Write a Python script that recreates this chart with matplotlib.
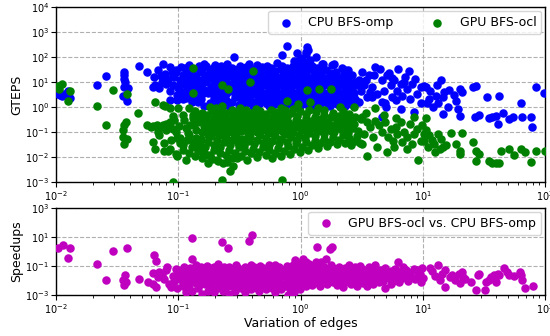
import matplotlib
matplotlib.use("Agg")
import matplotlib.pyplot as plt
from matplotlib.ticker import NullLocator

# CPU BFS-omp (GTEPS) vs variation of edges
cpu_sparse = [
    (0.0103, 3.4), (0.0108, 3.0), (0.0112, 2.9), (0.0115, 3.2), (0.0125, 4.4), (0.0130, 2.3), (0.0128, 4.0),
    (0.0216, 7.8), (0.0257, 17), (0.0357, 25), (0.0357, 18.6), (0.0362, 13.6), (0.0365, 10), (0.0360, 6.3),
    (0.0385, 5.8), (0.0350, 2.7), (0.0380, 1.7), (0.048, 44), (0.0555, 25), (0.0617, 6.3), (0.063, 16),
    (0.068, 31), (0.065, 7.4), (0.075, 51), (0.078, 21.5), (0.080, 8.5), (0.085, 4.6), (0.086, 1.85),
    (0.086, 40), (0.092, 16), (0.082, 13.5), (0.090, 7.4), (0.074, 10), (0.070, 6.0), (0.095, 30),
    (0.097, 3.0), (0.088, 25), (0.072, 18),
    (0.287, 100), (0.78, 290), (1.14, 190), (1.13, 250), (1.10, 158), (1.33, 100), (1.87, 51), (1.50, 54),
    (2.30, 31), (1.05, 70), (0.70, 120), (0.93, 140),
    (3.0, 11.7), (3.1, 4.6), (3.3, 7.4), (3.5, 2.5), (3.6, 18.5), (3.85, 6.3), (4.1, 40), (4.25, 3.4),
    (4.5, 34), (4.65, 11.7), (4.8, 4.6), (4.95, 1.4), (5.1, 18.5), (5.3, 24), (5.45, 7.4), (5.6, 2.5),
    (5.8, 11.7), (6.2, 4.6), (6.3, 34), (6.6, 8.5), (6.8, 2.9), (7.2, 16), (7.4, 5.4), (7.7, 29),
    (7.9, 2.2), (8.2, 8.5), (8.7, 13.5), (9.0, 3.4), (9.6, 6.3), (10.2, 6.7), (4.6, 0.4), (5.0, 1.0),
    (6.6, 0.86), (8.4, 0.63), (4.6, 1.6), (3.0, 1.6), (3.85, 2.5), (3.2, 25), (9.6, 1.4), (3.4, 12),
    (4.0, 20), (5.6, 14), (7.0, 10), (3.7, 4.0), (6.0, 2.0),
    (14.1, 12.4), (10.6, 6.3), (15.0, 3.9), (14.6, 2.5), (18.0, 3.1), (20.0, 5.3), (21.0, 3.9), (25.6, 6.3),
    (27.3, 7.2), (33.6, 2.5), (41.7, 2.7), (63.0, 1.4), (84.0, 6.3), (98.0, 3.6), (10.8, 1.4), (12.1, 1.0),
    (13.3, 1.4), (14.6, 0.55), (18.7, 1.8), (19.3, 0.85), (20.0, 0.46), (26.5, 0.4), (29.0, 0.5), (35.0, 0.35),
    (37.0, 0.4), (41.0, 0.22), (40.0, 0.46), (45.0, 0.57), (51.0, 0.32), (55.0, 0.42), (65.0, 0.4),
    (77.0, 0.4), (78.0, 0.16), (11.3, 2.2), (12.8, 2.9), (16.0, 1.0), (11.5, 4.5), (13.0, 8.0), (16.5, 5.0),
]

cpu_dense = [
    (0.097, 1.9), (0.103, 3.5), (0.099, 6.0), (0.104, 12), (0.096, 25),
    (0.109, 2.2), (0.104, 8.0), (0.111, 16), (0.105, 40),
    (0.115, 2.4), (0.110, 4.2), (0.116, 9.0), (0.109, 20), (0.114, 35),
    (0.123, 3.0), (0.117, 6.5), (0.124, 14), (0.118, 28),
    (0.129, 1.6), (0.123, 5.0), (0.131, 10), (0.127, 22), (0.122, 50),
    (0.138, 2.5), (0.131, 7.5), (0.139, 15), (0.133, 32),
    (0.146, 1.6), (0.139, 4.0), (0.144, 9.0), (0.137, 18), (0.147, 42),
    (0.155, 3.2), (0.148, 6.0), (0.156, 12), (0.149, 25),
    (0.163, 1.1), (0.154, 2.2), (0.161, 5.0), (0.153, 8.0), (0.165, 16), (0.156, 30), (0.162, 55),
    (0.174, 3.5), (0.166, 10), (0.176, 20), (0.168, 45),
    (0.183, 1.5), (0.174, 4.5), (0.185, 7.0), (0.173, 13), (0.181, 28),
    (0.195, 2.4), (0.186, 6.0), (0.197, 11), (0.188, 18), (0.193, 38),
    (0.206, 1.2), (0.196, 3.0), (0.208, 8.0), (0.194, 15), (0.204, 24), (0.198, 50),
    (0.220, 1.9), (0.209, 5.0), (0.221, 9.5), (0.211, 20), (0.218, 35),
    (0.231, 1.3), (0.219, 2.8), (0.232, 6.5), (0.217, 12), (0.229, 28), (0.222, 45),
    (0.247, 2.0), (0.235, 4.0), (0.248, 8.0), (0.236, 16), (0.244, 30),
    (0.259, 1.1), (0.245, 3.2), (0.260, 5.5), (0.246, 11), (0.257, 22), (0.249, 55),
    (0.277, 1.6), (0.263, 4.5), (0.278, 9.0), (0.262, 18), (0.274, 38),
    (0.291, 2.5), (0.276, 6.0), (0.292, 13), (0.279, 25),
    (0.311, 1.2), (0.295, 3.5), (0.313, 7.5), (0.296, 15), (0.308, 32),
    (0.326, 1.8), (0.309, 5.0), (0.328, 10), (0.310, 20), (0.322, 45),
    (0.350, 1.3), (0.331, 2.8), (0.351, 6.5), (0.333, 12), (0.345, 28),
    (0.366, 2.2), (0.347, 4.2), (0.368, 9.0), (0.349, 17), (0.361, 40),
    (0.392, 1.5), (0.370, 3.5), (0.393, 7.0), (0.372, 14), (0.386, 30), (0.375, 55),
    (0.410, 1.1), (0.389, 2.5), (0.412, 5.5), (0.391, 11), (0.404, 22),
    (0.440, 1.8), (0.417, 4.0), (0.442, 8.5), (0.418, 16), (0.434, 35),
    (0.461, 1.3), (0.436, 3.0), (0.463, 6.5), (0.438, 13), (0.455, 26), (0.443, 50),
    (0.494, 2.2), (0.467, 5.0), (0.496, 10), (0.469, 20), (0.487, 40),
    (0.517, 1.5), (0.489, 3.5), (0.519, 7.5), (0.491, 15), (0.509, 30),
    (0.554, 1.1), (0.524, 2.6), (0.556, 5.5), (0.526, 11), (0.546, 24), (0.531, 45),
    (0.580, 1.9), (0.549, 4.0), (0.582, 8.5), (0.551, 17), (0.571, 35),
    (0.622, 1.3), (0.589, 3.0), (0.624, 6.5), (0.591, 13), (0.612, 27),
    (0.651, 2.2), (0.616, 5.0), (0.653, 10), (0.618, 20), (0.641, 60),
    (0.697, 1.5), (0.660, 3.5), (0.699, 7.5), (0.662, 15), (0.686, 32),
    (0.730, 1.1), (0.692, 2.5), (0.733, 5.5), (0.694, 11), (0.719, 23), (0.702, 45),
    (0.783, 1.8), (0.741, 4.0), (0.786, 8.5), (0.744, 17), (0.771, 38),
    (0.819, 1.3), (0.776, 3.0), (0.822, 6.5), (0.778, 13), (0.806, 28),
    (0.878, 2.2), (0.831, 5.0), (0.881, 10), (0.834, 21), (0.864, 45),
    (0.919, 1.5), (0.870, 3.5), (0.922, 7.5), (0.873, 15), (0.905, 30), (0.882, 70),
    (0.985, 1.1), (0.933, 2.6), (0.988, 5.5), (0.936, 11), (0.970, 24), (0.945, 50),
    (1.030, 1.9), (0.976, 4.0), (1.035, 8.5), (0.980, 17), (1.015, 35), (0.990, 90),
    (1.100, 1.3), (1.045, 3.0), (1.105, 6.5), (1.050, 13), (1.085, 27), (1.060, 60),
    (1.155, 2.2), (1.095, 5.0), (1.160, 10), (1.100, 20), (1.140, 40), (1.110, 130),
    (1.240, 1.5), (1.170, 3.5), (1.245, 7.5), (1.175, 15), (1.220, 32), (1.190, 75),
    (1.300, 1.1), (1.230, 2.5), (1.305, 5.5), (1.235, 11), (1.280, 23), (1.250, 45),
    (1.390, 1.8), (1.320, 4.0), (1.395, 8.5), (1.325, 17), (1.370, 38),
    (1.455, 1.3), (1.380, 3.0), (1.460, 6.5), (1.385, 13), (1.430, 28),
    (1.560, 2.2), (1.475, 5.0), (1.565, 10), (1.480, 20), (1.530, 55),
    (1.630, 1.5), (1.545, 3.5), (1.635, 7.5), (1.550, 15), (1.600, 30),
    (1.755, 1.1), (1.660, 2.6), (1.760, 5.5), (1.665, 11), (1.725, 24),
    (1.835, 1.9), (1.740, 4.0), (1.840, 8.5), (1.745, 17), (1.805, 50),
    (1.970, 1.3), (1.870, 3.0), (1.975, 6.5), (1.875, 13), (1.935, 26),
    (2.060, 2.2), (1.960, 5.0), (2.065, 10), (1.965, 20),
    (2.210, 1.5), (2.095, 3.5), (2.215, 7.5), (2.100, 15), (2.170, 35),
    (2.310, 1.1), (2.190, 2.6), (2.315, 5.5), (2.195, 11), (2.270, 24),
    (2.480, 1.9), (2.350, 4.0), (2.485, 8.5), (2.355, 17), (2.430, 30),
    (2.590, 1.3), (2.455, 3.0), (2.595, 6.5), (2.460, 13),
    (2.780, 2.2), (2.630, 5.0), (2.785, 10), (2.635, 20),
    (2.910, 1.6), (2.760, 3.5), (2.915, 7.5),
]

# GPU BFS-ocl (GTEPS)
gpu_sparse = [
    (0.0103, 6.9), (0.0112, 8.6), (0.0106, 5.4), (0.0130, 4.4), (0.0125, 1.7), (0.0216, 1.1), (0.0256, 0.19),
    (0.0294, 5.0), (0.037, 0.25), (0.036, 0.19), (0.035, 0.12), (0.035, 0.064), (0.036, 0.034), (0.038, 0.055),
    (0.0378, 3.2), (0.047, 0.57), (0.055, 0.19), (0.060, 0.16), (0.062, 0.04), (0.065, 0.021), (0.065, 1.6),
    (0.075, 1.2), (0.077, 0.018), (0.079, 0.21), (0.086, 0.16), (0.090, 0.46), (0.086, 0.021), (0.090, 0.13),
    (0.096, 0.013), (0.090, 0.001), (0.062, 0.17), (0.067, 0.2), (0.068, 0.1), (0.070, 0.08), (0.075, 0.2),
    (0.076, 0.035), (0.078, 1.1), (0.080, 0.12), (0.082, 0.018), (0.085, 0.25), (0.087, 0.05), (0.092, 0.3),
    (0.095, 0.1), (0.097, 0.06), (0.085, 0.9), (0.098, 0.011), (0.072, 0.16),
    (0.133, 36), (0.41, 27), (0.385, 10), (0.226, 7.7), (0.256, 5.5), (0.133, 3.6), (0.226, 1.1),
    (1.13, 4.9), (1.41, 5.2), (1.78, 5.1), (2.10, 1.0), (2.73, 1.0), (0.78, 1.7), (0.95, 1.3), (1.20, 1.6),
    (0.226, 0.0012), (0.71, 0.0012), (0.264, 0.0028), (0.28, 0.0045), (0.25, 0.0065), (0.21, 0.007),
    (0.30, 0.009), (0.17, 0.012), (0.19, 0.0085),
    (3.2, 0.4), (3.5, 0.25), (3.7, 0.16), (4.1, 0.28), (4.4, 0.19), (4.65, 0.1), (4.95, 0.25), (5.2, 0.064),
    (5.45, 0.13), (5.7, 0.046), (6.0, 0.16), (6.2, 0.086), (6.6, 0.25), (6.8, 0.04), (7.0, 0.1), (7.4, 0.064),
    (7.9, 0.21), (8.2, 0.034), (8.4, 0.086), (9.0, 0.13), (9.6, 0.046), (10.2, 0.086), (3.5, 0.011),
    (5.1, 0.016), (9.1, 0.0079), (3.2, 0.034), (4.2, 0.025), (5.8, 0.025), (7.4, 0.021), (4.1, 0.9),
    (8.4, 0.4), (9.9, 0.19), (3.3, 0.086), (3.9, 0.064), (3.4, 0.6), (4.8, 0.5), (6.0, 0.35),
    (10.6, 0.36), (10.6, 0.12), (11.3, 0.074), (13.3, 0.086), (17.0, 0.09), (21.0, 0.09), (11.0, 0.025),
    (12.4, 0.034), (13.7, 0.021), (14.7, 0.025), (18.7, 0.032), (20.0, 0.018), (20.0, 0.013), (25.6, 0.039),
    (27.3, 0.018), (27.3, 0.0071), (29.0, 0.013), (35.0, 0.0068), (37.0, 0.0057), (40.0, 0.006),
    (42.0, 0.0057), (44.0, 0.018), (51.0, 0.021), (56.0, 0.012), (64.0, 0.021), (68.0, 0.016),
    (77.0, 0.0061), (84.0, 0.018), (99.0, 0.017), (10.3, 0.046), (12.0, 0.049), (14.0, 0.055),
    (15.5, 0.03), (12.5, 0.016),
]

gpu_dense = [
    (0.097, 0.012), (0.103, 0.035), (0.099, 0.9), (0.102, 0.18),
    (0.109, 0.02), (0.104, 0.06), (0.111, 0.3),
    (0.115, 0.008), (0.110, 0.03), (0.116, 0.15), (0.109, 0.5),
    (0.123, 0.015), (0.117, 0.05), (0.124, 0.2), (0.119, 0.09),
    (0.129, 0.025), (0.123, 0.08), (0.131, 0.35), (0.122, 0.9),
    (0.138, 0.011), (0.131, 0.04), (0.139, 0.12), (0.133, 0.5), (0.135, 0.22),
    (0.146, 0.018), (0.139, 0.06), (0.144, 0.25), (0.137, 0.7),
    (0.155, 0.009), (0.148, 0.03), (0.156, 0.1), (0.149, 0.4), (0.152, 0.055),
    (0.163, 0.015), (0.154, 0.05), (0.161, 0.18), (0.156, 0.6), (0.159, 0.3),
    (0.174, 0.006), (0.166, 0.025), (0.176, 0.08), (0.168, 0.3), (0.171, 0.14),
    (0.183, 0.012), (0.174, 0.04), (0.185, 0.14), (0.173, 0.5), (0.181, 1.0), (0.178, 0.25),
    (0.195, 0.02), (0.186, 0.07), (0.197, 0.22), (0.188, 0.7), (0.192, 0.11),
    (0.206, 0.008), (0.196, 0.03), (0.208, 0.1), (0.194, 0.35), (0.204, 0.9), (0.200, 0.18),
    (0.220, 0.015), (0.209, 0.05), (0.221, 0.16), (0.211, 0.5), (0.215, 0.08),
    (0.231, 0.006), (0.219, 0.025), (0.232, 0.08), (0.217, 0.25), (0.229, 0.7), (0.225, 0.14),
    (0.247, 0.012), (0.235, 0.04), (0.248, 0.12), (0.236, 0.4), (0.241, 0.22),
    (0.259, 0.02), (0.245, 0.06), (0.260, 0.2), (0.246, 0.6), (0.252, 0.1),
    (0.277, 0.009), (0.263, 0.03), (0.278, 0.09), (0.262, 0.3), (0.274, 0.8), (0.270, 0.16),
    (0.291, 0.015), (0.276, 0.05), (0.292, 0.15), (0.279, 0.45), (0.284, 0.26),
    (0.311, 0.025), (0.295, 0.07), (0.313, 0.22), (0.296, 0.65), (0.305, 0.12),
    (0.326, 0.011), (0.309, 0.035), (0.328, 0.11), (0.310, 0.35), (0.322, 0.9), (0.318, 0.2),
    (0.350, 0.018), (0.331, 0.055), (0.351, 0.17), (0.333, 0.5), (0.340, 0.3),
    (0.366, 0.008), (0.347, 0.028), (0.368, 0.085), (0.349, 0.26), (0.361, 0.75), (0.357, 0.14),
    (0.392, 0.014), (0.370, 0.045), (0.393, 0.14), (0.372, 0.42), (0.380, 0.24),
    (0.410, 0.022), (0.389, 0.065), (0.412, 0.2), (0.391, 0.6), (0.400, 0.11),
    (0.440, 0.01), (0.417, 0.032), (0.442, 0.1), (0.418, 0.3), (0.434, 0.85), (0.428, 0.18),
    (0.461, 0.016), (0.436, 0.05), (0.463, 0.16), (0.438, 0.48), (0.450, 0.28),
    (0.494, 0.026), (0.467, 0.075), (0.496, 0.24), (0.469, 0.7), (0.480, 0.13),
    (0.517, 0.012), (0.489, 0.038), (0.519, 0.12), (0.491, 0.36), (0.505, 0.2),
    (0.554, 0.02), (0.524, 0.06), (0.556, 0.19), (0.526, 0.55), (0.540, 0.1),
    (0.580, 0.009), (0.549, 0.03), (0.582, 0.09), (0.551, 0.28), (0.571, 0.8), (0.565, 0.16),
    (0.622, 0.015), (0.589, 0.045), (0.624, 0.14), (0.591, 0.42), (0.605, 0.25),
    (0.651, 0.024), (0.616, 0.07), (0.653, 0.21), (0.618, 0.62), (0.635, 0.12),
    (0.697, 0.011), (0.660, 0.035), (0.699, 0.11), (0.662, 0.33), (0.686, 0.9), (0.680, 0.19),
    (0.730, 0.018), (0.692, 0.055), (0.733, 0.17), (0.694, 0.5), (0.710, 0.3),
    (0.783, 0.028), (0.741, 0.085), (0.786, 0.26), (0.744, 0.75), (0.760, 0.14),
    (0.819, 0.013), (0.776, 0.04), (0.822, 0.13), (0.778, 0.4), (0.800, 0.22),
    (0.878, 0.021), (0.831, 0.065), (0.881, 0.2), (0.834, 0.6), (0.855, 0.11),
    (0.919, 0.035), (0.870, 0.1), (0.922, 0.3), (0.873, 0.85), (0.895, 0.17),
    (0.985, 0.016), (0.933, 0.05), (0.988, 0.15), (0.936, 0.45), (0.960, 0.26),
    (1.030, 0.026), (0.976, 0.08), (1.035, 0.24), (0.980, 0.7), (1.000, 0.13),
    (1.100, 0.04), (1.045, 0.12), (1.105, 0.36), (1.070, 0.2),
    (1.155, 0.02), (1.095, 0.06), (1.160, 0.19), (1.100, 0.55), (1.125, 0.1),
    (1.240, 0.03), (1.170, 0.09), (1.245, 0.28), (1.175, 0.8), (1.200, 0.16),
    (1.300, 0.045), (1.230, 0.14), (1.305, 0.42), (1.260, 0.25),
    (1.390, 0.024), (1.320, 0.07), (1.395, 0.21), (1.325, 0.62), (1.350, 0.12),
    (1.455, 0.035), (1.380, 0.11), (1.460, 0.33), (1.385, 0.9), (1.420, 0.19),
    (1.560, 0.055), (1.475, 0.17), (1.565, 0.5), (1.510, 0.3),
    (1.630, 0.028), (1.545, 0.085), (1.635, 0.26), (1.550, 0.75), (1.580, 0.14),
    (1.755, 0.04), (1.660, 0.13), (1.760, 0.4), (1.700, 0.22),
    (1.835, 0.065), (1.740, 0.2), (1.840, 0.6), (1.780, 0.11),
    (1.970, 0.032), (1.870, 0.1), (1.975, 0.3), (1.920, 0.17),
    (2.060, 0.05), (1.960, 0.15), (2.065, 0.45), (2.000, 0.26),
    (2.210, 0.075), (2.095, 0.24), (2.215, 0.7), (2.150, 0.13),
    (2.310, 0.038), (2.190, 0.12), (2.315, 0.36), (2.250, 0.2),
    (2.480, 0.06), (2.350, 0.19), (2.485, 0.55), (2.400, 0.1),
    (2.590, 0.03), (2.455, 0.09), (2.595, 0.28),
    (2.780, 0.045), (2.630, 0.14), (2.785, 0.42),
    (2.910, 0.07), (2.760, 0.21),
    (3.050, 0.035), (2.950, 0.11), (3.100, 0.33),
]

# Speedups: GPU BFS-ocl vs. CPU BFS-omp
speedup_sparse = [
    (0.0103, 1.8), (0.0113, 2.8), (0.0130, 1.8), (0.0125, 0.34), (0.0216, 0.14), (0.0256, 0.011),
    (0.0294, 1.0), (0.0378, 1.8), (0.0369, 0.024), (0.035, 0.011), (0.036, 0.0049), (0.0373, 0.0075),
    (0.048, 0.013), (0.056, 0.0075), (0.062, 0.032), (0.063, 0.57), (0.066, 0.22), (0.066, 0.0037),
    (0.062, 0.006), (0.079, 0.052), (0.074, 0.024), (0.084, 0.0056), (0.090, 0.02), (0.095, 0.062),
    (0.087, 0.0037), (0.076, 0.012), (0.070, 0.04), (0.081, 0.09), (0.093, 0.009), (0.068, 0.018),
    (0.13, 8.1), (0.227, 4.8), (0.256, 1.8), (0.378, 5.3), (0.40, 13.8), (0.13, 0.3), (0.55, 0.12),
    (1.36, 1.95), (1.75, 1.4), (1.80, 2.2), (1.05, 0.3), (1.6, 0.3), (0.9, 0.25),
    (11.5, 0.069), (11.9, 0.042), (13.4, 0.12), (13.9, 0.011), (14.3, 0.029), (15.2, 0.05), (15.2, 0.0036),
    (16.7, 0.018), (17.3, 0.024), (18.3, 0.011), (19.6, 0.029), (20.8, 0.04), (20.0, 0.0065), (21.5, 0.018),
    (25.0, 0.0085), (28.5, 0.024), (29.0, 0.03), (27.0, 0.0022), (33.0, 0.0085), (35.0, 0.011),
    (36.0, 0.018), (38.0, 0.024), (40.0, 0.0075), (41.0, 0.03), (42.0, 0.024), (46.5, 0.069),
    (49.0, 0.04), (51.0, 0.024), (56.0, 0.019), (62.0, 0.04), (63.0, 0.024), (65.0, 0.011),
    (68.0, 0.0029), (79.0, 0.0045), (32.0, 0.0022), (12.5, 0.02), (22.0, 0.012),
]

speedup_dense = [
    (0.097, 0.003), (0.103, 0.012), (0.099, 0.05),
    (0.109, 0.006), (0.104, 0.025), (0.111, 0.09),
    (0.115, 0.0015), (0.110, 0.004), (0.116, 0.015), (0.109, 0.04),
    (0.123, 0.008), (0.117, 0.03), (0.124, 0.07),
    (0.129, 0.002), (0.123, 0.005), (0.131, 0.018), (0.122, 0.06),
    (0.138, 0.01), (0.131, 0.035), (0.139, 0.12),
    (0.146, 0.003), (0.139, 0.007), (0.144, 0.022), (0.137, 0.05),
    (0.155, 0.0012), (0.148, 0.005), (0.156, 0.015), (0.149, 0.04), (0.152, 0.09),
    (0.163, 0.009), (0.154, 0.028), (0.161, 0.065),
    (0.174, 0.002), (0.166, 0.006), (0.176, 0.02), (0.168, 0.05),
    (0.183, 0.004), (0.174, 0.012), (0.185, 0.035), (0.173, 0.1),
    (0.195, 0.0015), (0.186, 0.008), (0.197, 0.025), (0.188, 0.07),
    (0.206, 0.003), (0.196, 0.01), (0.208, 0.03), (0.194, 0.08),
    (0.220, 0.005), (0.209, 0.016), (0.221, 0.045), (0.211, 0.13),
    (0.231, 0.002), (0.219, 0.007), (0.232, 0.022), (0.217, 0.06),
    (0.247, 0.0035), (0.235, 0.012), (0.248, 0.035), (0.236, 0.09),
    (0.259, 0.0012), (0.245, 0.006), (0.260, 0.018), (0.246, 0.05),
    (0.277, 0.004), (0.263, 0.01), (0.278, 0.03), (0.262, 0.08),
    (0.291, 0.002), (0.276, 0.008), (0.292, 0.025), (0.279, 0.065),
    (0.311, 0.005), (0.295, 0.014), (0.313, 0.04), (0.296, 0.11),
    (0.326, 0.003), (0.309, 0.009), (0.328, 0.028), (0.310, 0.07),
    (0.350, 0.0015), (0.331, 0.006), (0.351, 0.02), (0.333, 0.055),
    (0.366, 0.004), (0.347, 0.012), (0.368, 0.035), (0.349, 0.09),
    (0.392, 0.0025), (0.370, 0.008), (0.393, 0.025), (0.372, 0.065),
    (0.410, 0.005), (0.389, 0.015), (0.412, 0.045), (0.391, 0.12),
    (0.440, 0.003), (0.417, 0.01), (0.442, 0.03), (0.418, 0.08),
    (0.461, 0.0018), (0.436, 0.007), (0.463, 0.022), (0.438, 0.06),
    (0.494, 0.004), (0.467, 0.013), (0.496, 0.04), (0.469, 0.1),
    (0.517, 0.0025), (0.489, 0.009), (0.519, 0.028), (0.491, 0.075),
    (0.554, 0.006), (0.524, 0.018), (0.556, 0.05),
    (0.580, 0.003), (0.549, 0.011), (0.582, 0.035), (0.551, 0.09),
    (0.622, 0.0015), (0.589, 0.007), (0.624, 0.022), (0.591, 0.06),
    (0.651, 0.004), (0.616, 0.014), (0.653, 0.04), (0.618, 0.11),
    (0.697, 0.0025), (0.660, 0.009), (0.699, 0.03), (0.662, 0.08),
    (0.730, 0.006), (0.692, 0.02), (0.733, 0.055),
    (0.783, 0.001), (0.741, 0.004), (0.786, 0.013), (0.744, 0.04), (0.771, 0.1),
    (0.819, 0.0025), (0.776, 0.009), (0.822, 0.03), (0.778, 0.075),
    (0.878, 0.0015), (0.831, 0.006), (0.881, 0.02), (0.834, 0.06),
    (0.919, 0.004), (0.870, 0.014), (0.922, 0.045), (0.873, 0.12),
    (0.985, 0.0025), (0.933, 0.009), (0.988, 0.03), (0.936, 0.08),
    (1.030, 0.006), (0.976, 0.02), (1.035, 0.06), (0.980, 0.15),
    (1.100, 0.004), (1.045, 0.014), (1.105, 0.04), (1.050, 0.1),
    (1.155, 0.009), (1.095, 0.03), (1.160, 0.08), (1.100, 0.2),
    (1.240, 0.005), (1.170, 0.018), (1.245, 0.05), (1.175, 0.13),
    (1.300, 0.012), (1.230, 0.035), (1.305, 0.1),
    (1.390, 0.007), (1.320, 0.022), (1.395, 0.065), (1.325, 0.18),
    (1.455, 0.004), (1.380, 0.014), (1.460, 0.045), (1.385, 0.12),
    (1.560, 0.009), (1.475, 0.03), (1.565, 0.08), (1.480, 0.2),
    (1.630, 0.006), (1.545, 0.02), (1.635, 0.055),
    (1.755, 0.012), (1.660, 0.04), (1.760, 0.11),
    (1.835, 0.008), (1.740, 0.025), (1.840, 0.07),
    (1.970, 0.005), (1.870, 0.016), (1.975, 0.05),
    (2.060, 0.01), (1.960, 0.03), (2.065, 0.09),
    (2.210, 0.0035), (2.095, 0.02), (2.215, 0.06),
    (2.310, 0.008), (2.190, 0.025), (2.315, 0.075),
    (2.480, 0.013), (2.350, 0.04), (2.485, 0.11),
    (2.590, 0.006), (2.455, 0.02), (2.595, 0.055),
    (2.780, 0.01), (2.630, 0.03), (2.785, 0.08),
    (2.910, 0.004), (2.760, 0.016), (2.915, 0.05),
    (3.10, 0.012), (2.95, 0.035), (3.05, 0.1),
    (3.25, 0.007), (3.10, 0.022), (3.20, 0.065),
    (3.50, 0.004), (3.35, 0.015), (3.45, 0.045),
    (3.65, 0.01), (3.50, 0.03), (3.60, 0.09),
    (3.90, 0.006), (3.75, 0.02), (3.85, 0.06),
    (4.10, 0.012), (3.95, 0.04), (4.05, 0.11),
    (4.40, 0.008), (4.25, 0.025),
    (4.60, 0.015), (4.45, 0.05),
    (4.90, 0.003), (4.75, 0.01), (4.85, 0.035),
    (5.10, 0.02), (4.95, 0.07),
    (5.50, 0.006), (5.30, 0.015), (5.45, 0.045),
    (5.70, 0.01), (5.55, 0.03),
    (6.10, 0.02), (5.90, 0.06),
    (6.40, 0.008), (6.25, 0.2),
    (6.70, 0.015), (6.50, 0.04),
    (7.10, 0.025), (6.90, 0.08),
    (7.50, 0.01), (7.30, 0.05),
    (8.00, 0.018), (7.80, 0.035),
    (8.60, 0.012), (8.40, 0.06),
    (9.10, 0.025), (8.90, 0.05),
    (9.60, 0.008), (9.40, 0.03),
    (10.1, 0.015), (9.90, 0.07),
]

cpu_x, cpu_y = zip(*(cpu_sparse + cpu_dense))
gpu_x, gpu_y = zip(*(gpu_sparse + gpu_dense))
sp_x, sp_y = zip(*(speedup_sparse + speedup_dense))

fig = plt.figure(figsize=(5.5, 3.36), dpi=100)
ax1 = fig.add_axes([0.102, 0.458, 0.889, 0.521])
ax2 = fig.add_axes([0.102, 0.122, 0.889, 0.259])

ax1.scatter(cpu_x, cpu_y, s=26, c="b", label="CPU BFS-omp", zorder=3)
ax1.scatter(gpu_x, gpu_y, s=26, c="g", label="GPU BFS-ocl", zorder=3)
ax2.scatter(sp_x, sp_y, s=26, c="m", label="GPU BFS-ocl vs. CPU BFS-omp", zorder=3)

for ax in (ax1, ax2):
    ax.set_xscale("log")
    ax.set_yscale("log")
    ax.set_xlim(1e-2, 1e2)
    ax.grid(True, which="major", linestyle="--", color="#b0b0b0", linewidth=0.8)
    ax.set_axisbelow(True)
    ax.tick_params(labelsize=7, pad=1.5)
    for sp in ax.spines.values():
        sp.set_linewidth(1.0)

ax1.set_ylim(1e-3, 1e4)
ax1.set_yticks([10.0 ** k for k in range(-3, 5)])
ax1.yaxis.set_minor_locator(NullLocator())
ax1.set_ylabel("GTEPS", fontsize=9)
ax1.yaxis.set_label_coords(-0.067, 0.5)
ax1.legend(loc="upper right", ncol=2, fontsize=9, scatterpoints=1,
           borderaxespad=0.3, columnspacing=2.5)

ax2.set_ylim(1e-3, 1e3)
ax2.set_yticks([1e-3, 1e-1, 1e1, 1e3])
ax2.yaxis.set_minor_locator(NullLocator())
ax2.set_ylabel("Speedups", fontsize=9)
ax2.yaxis.set_label_coords(-0.067, 0.5)
ax2.set_xlabel("Variation of edges", fontsize=9, labelpad=1)
ax2.legend(loc="upper right", fontsize=9, scatterpoints=1, borderaxespad=0.3)

fig.savefig("out.png", dpi=100)
